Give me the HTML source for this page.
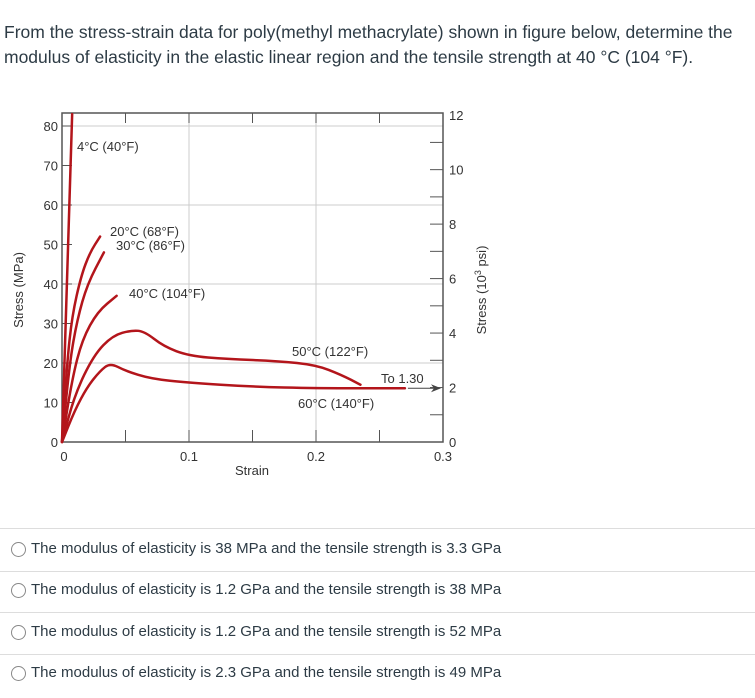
<!DOCTYPE html>
<html><head><meta charset="utf-8"><style>
body{margin:0;width:755px;height:698px;background:#fff;font-family:"Liberation Sans",sans-serif;color:#333;position:relative;overflow:hidden}
.q{position:absolute;left:4px;top:20px;font-size:17.5px;line-height:25px;color:#2d3b45}
.opt{position:absolute;left:0;width:755px;height:41px;font-size:15px;color:#2d3b45}
.opt span.c{position:absolute;left:11px;top:13px;width:13px;height:13px;border:1px solid #888;border-radius:50%}
.opt span.t{position:absolute;left:31px;top:11px}
.sep{position:absolute;left:0;width:755px;height:1px;background:#ddd}
svg text{font-family:"Liberation Sans",sans-serif;fill:#333}
</style></head><body>
<div class="q">From the stress-strain data for poly(methyl methacrylate) shown in figure below, determine the<br>modulus of elasticity in the elastic linear region and the tensile strength at 40 °C (104 °F).</div>
<svg id="chart" width="755" height="500" style="position:absolute;left:0;top:0"></svg>
<div class="sep" style="top:528px"></div>
<div class="opt" style="top:529px"><span class="c"></span><span class="t">The modulus of elasticity is 38 MPa and the tensile strength is 3.3 GPa</span></div>
<div class="sep" style="top:571px"></div>
<div class="opt" style="top:570px"><span class="c"></span><span class="t">The modulus of elasticity is 1.2 GPa and the tensile strength is 38 MPa</span></div>
<div class="sep" style="top:612px"></div>
<div class="opt" style="top:612px"><span class="c"></span><span class="t">The modulus of elasticity is 1.2 GPa and the tensile strength is 52 MPa</span></div>
<div class="sep" style="top:654px"></div>
<div class="opt" style="top:653px"><span class="c"></span><span class="t">The modulus of elasticity is 2.3 GPa and the tensile strength is 49 MPa</span></div>
<script>
const xTicks=[0,0.1,0.2,0.3];
const xTickLabels=["0","0.1","0.2","0.3"];
const yTicks=[0,10,20,30,40,50,60,70,80];
const psiTicks=[0,2,4,6,8,10,12];
const c4=[[0,0],[0.008,83]];
const c20=[[0,0],[0.004,20],[0.008,32],[0.015,42],[0.022,48],[0.03,52]];
const c30=[[0,0],[0.006,20],[0.012,31],[0.02,40],[0.033,48]];
const c40=[[0,0],[0.008,16],[0.016,26],[0.028,33],[0.043,37]];
const c50=[[0,0],[0.01,12],[0.025,22],[0.04,27],[0.055,28.3],[0.065,28],[0.08,24.2],[0.1,21.8],[0.13,21],[0.17,20.5],[0.2,19.5],[0.22,17],[0.235,14.5]];
const c60=[[0,0],[0.01,8],[0.02,14],[0.03,18],[0.038,20],[0.05,18],[0.07,16],[0.1,15],[0.15,14],[0.2,13.6],[0.27,13.6]];
const X0=62,X1=443,Y0=442,YS=3.95;
const sx=v=>X0+v/0.3*(X1-X0), sy=v=>Y0-v*YS;
const svg=document.getElementById('chart');
const NS='http://www.w3.org/2000/svg';
function mk(t,a,p){const e=document.createElementNS(NS,t);for(const k in a)e.setAttribute(k,a[k]);(p||svg).appendChild(e);return e;}
[20,40,60,80].forEach(v=>{const g=mk('line',{x1:X0,x2:X1,y1:sy(v),y2:sy(v),stroke:'#ccc','stroke-width':1});

});
[0.1,0.2].forEach(v=>{const g=mk('line',{x1:sx(v),x2:sx(v),y1:113,y2:Y0,stroke:'#ccc','stroke-width':1});

});
const frame=mk('rect',{x:X0,y:113,width:X1-X0,height:Y0-113,fill:'none',stroke:'#555','stroke-width':1.5});


[0.05,0.1,0.15,0.2,0.25].forEach(v=>{mk('line',{x1:sx(v),x2:sx(v),y1:113,y2:123,stroke:'#555'});mk('line',{x1:sx(v),x2:sx(v),y1:Y0,y2:Y0-12,stroke:'#555'});});
xTicks.forEach((v,i)=>{const t=mk('text',{x:sx(v)+(i==0?2:0),y:Y0+19,'font-size':13,'text-anchor':'middle'});t.textContent=xTickLabels[i];

});
yTicks.forEach(v=>{mk('line',{x1:X0,x2:X0+10,y1:sy(v),y2:sy(v),stroke:'#555'});const t=mk('text',{x:X0-4,y:sy(v)+5,'font-size':13,'text-anchor':'end'});t.textContent=v;

});
for(let k=1;k<12;k++){mk('line',{x1:X1-13,x2:X1,y1:sy(k*6.895),y2:sy(k*6.895),stroke:'#555'});}
psiTicks.forEach(v=>{const t=mk('text',{x:X1+6,y:sy(v*6.895)+5,'font-size':13});t.textContent=v;

});
function curve(d,n){let p='';for(let i=0;i<d.length;i++){const x=sx(d[i][0]),y=sy(d[i][1]);if(i==0)p='M'+x+','+y;else{const a=d[i-1],ax=sx(a[0]),ay=sy(a[1]);const mx=(ax+x)/2;p+=' Q'+ax+','+ay+' '+mx+','+((ay+y)/2);}}
const l=d[d.length-1];p+=' L'+sx(l[0])+','+sy(l[1]);
const e=mk('path',{d:p,fill:'none',stroke:'#b3151b','stroke-width':2.5,'stroke-linecap':'round'});

}
curve(c4,'curve-4c');curve(c20,'curve-20c');curve(c30,'curve-30c');curve(c40,'curve-40c');curve(c50,'curve-50c');curve(c60,'curve-60c');
const ar=c60[c60.length-1];
mk('line',{x1:sx(ar[0])+3,x2:sx(0.3)-6,y1:sy(ar[1]),y2:sy(ar[1]),stroke:'#444'});
mk('path',{d:`M${sx(0.3)-2},${sy(ar[1])} l-10,-4 l3,4 l-3,4z`,fill:'#444'});
const labs=[["4°C (40°F)",77,151],["20°C (68°F)",110,236],["30°C (86°F)",116,250],["40°C (104°F)",129,298],["50°C (122°F)",292,356],["To 1.30",381,383],["60°C (140°F)",298,408]];
labs.forEach(l=>{const t=mk('text',{x:l[1],y:l[2],'font-size':13});t.textContent=l[0];

});
const xt=mk('text',{x:252,y:475,'font-size':13,'text-anchor':'middle'});xt.textContent='Strain';


const yt=mk('text',{x:0,y:0,'font-size':13,'text-anchor':'middle',transform:'translate(23,290) rotate(-90)'});yt.textContent='Stress (MPa)';


const yt2=mk('text',{x:0,y:0,'font-size':13,'text-anchor':'middle',transform:'translate(486,290) rotate(-90)'});yt2.innerHTML='Stress (10<tspan dy="-5" font-size="9">3</tspan><tspan dy="5"> psi)</tspan>';


</script>
</body></html>
